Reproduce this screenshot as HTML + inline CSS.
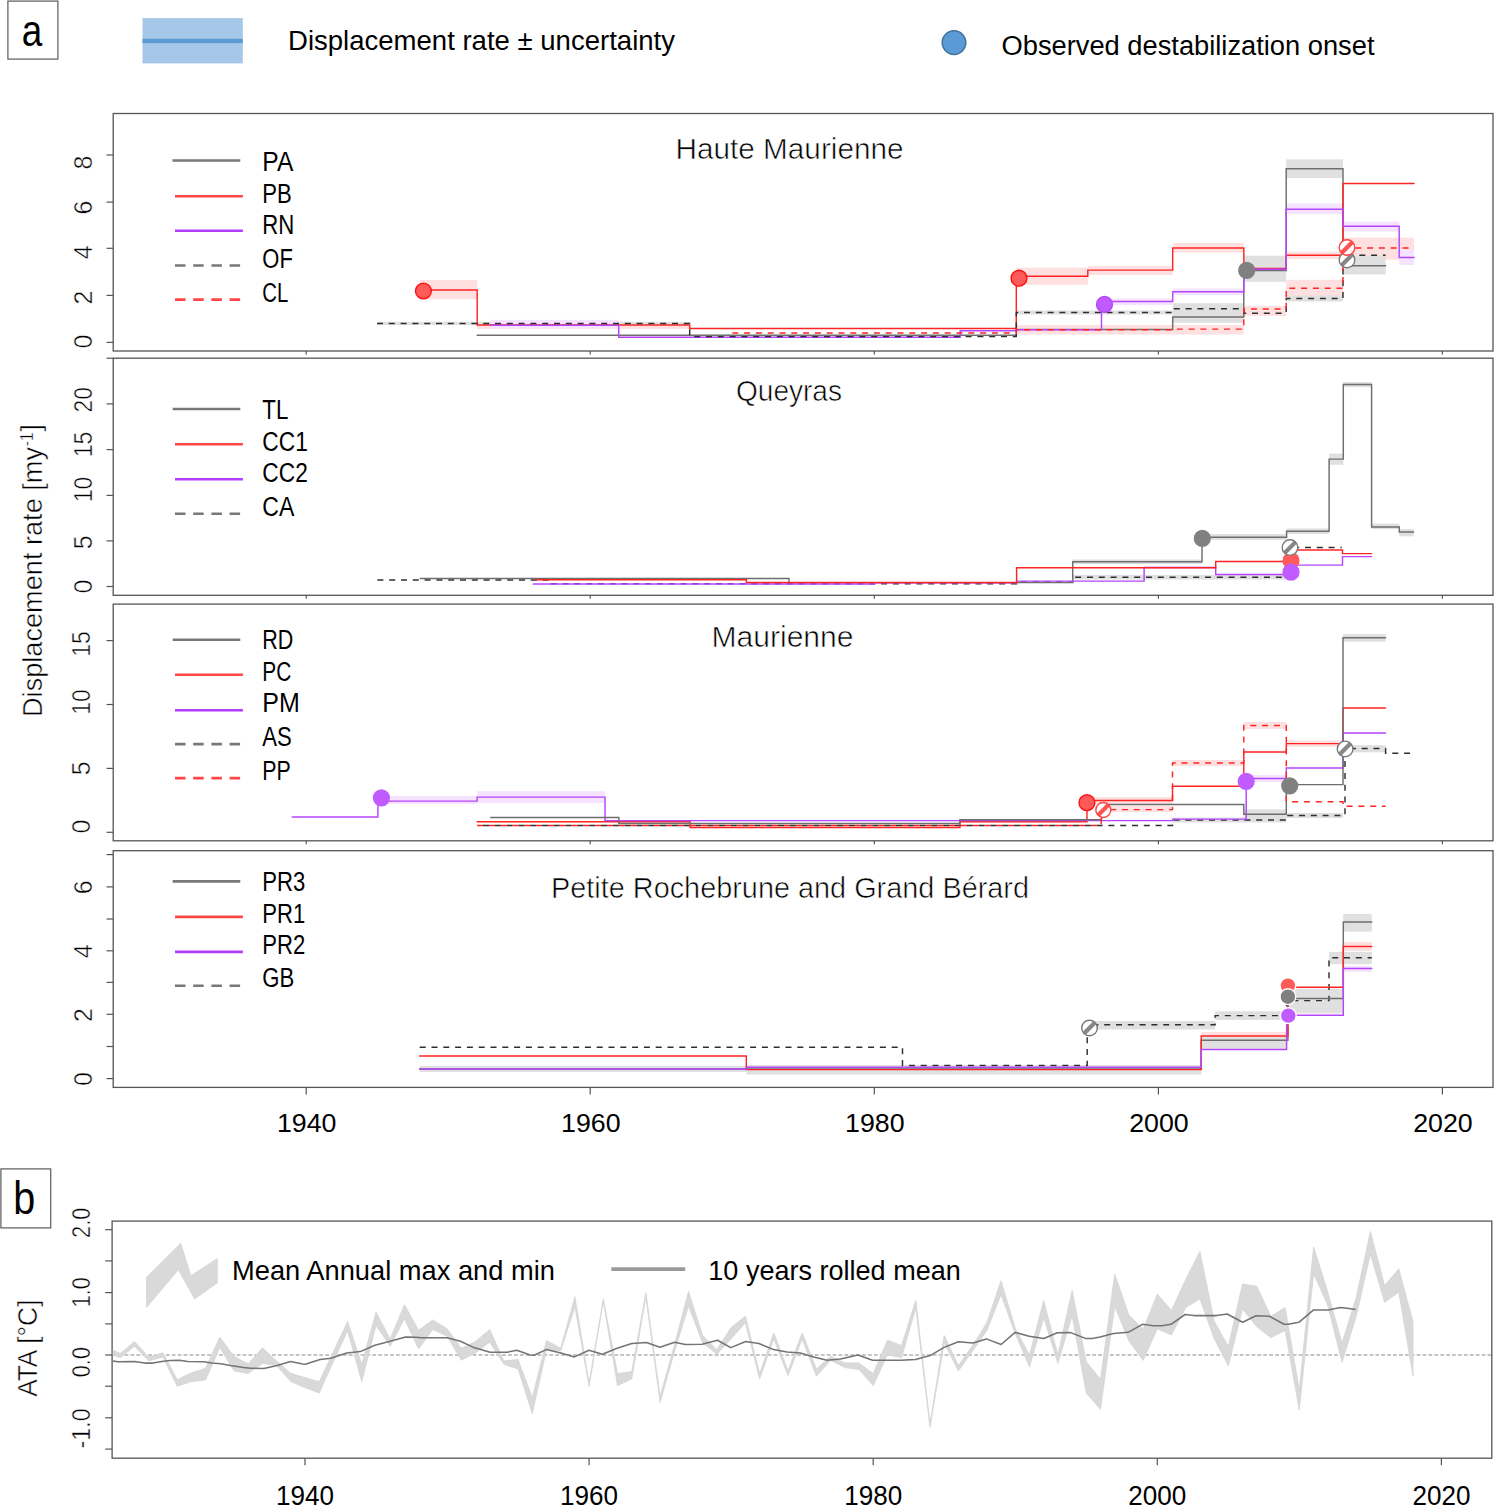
<!DOCTYPE html>
<html><head><meta charset="utf-8"><style>
html,body{margin:0;padding:0;background:#fff;}
svg{display:block;}
text{font-family:"Liberation Sans", sans-serif;}
.lt{stroke:#fff;stroke-width:0.5px;}
.lt2{stroke:#fff;stroke-width:0.6px;}
</style></head><body>
<svg width="1495" height="1507" viewBox="0 0 1495 1507">
<rect width="1495" height="1507" fill="#fff"/>
<rect x="7.9" y="1.1" width="50" height="58" fill="none" stroke="#666" stroke-width="1.3"/>
<text transform="translate(21.8,45.9) scale(0.82,1)" font-size="45">a</text>
<rect x="142.5" y="18.1" width="100.3" height="45.3" fill="#a6c8e8"/>
<rect x="142.5" y="38.8" width="100.3" height="4.3" fill="#5b9bd5"/>
<text x="288.0" y="50.1" font-size="27.3" textLength="387.0" lengthAdjust="spacingAndGlyphs" fill="#000">Displacement rate ± uncertainty</text>
<circle cx="954" cy="42.6" r="11.8" fill="#5b9bd5" stroke="#41719c" stroke-width="1.5"/>
<text x="1001.5" y="55.1" font-size="28.2" textLength="373.0" lengthAdjust="spacingAndGlyphs" fill="#000">Observed destabilization onset</text>
<rect x="113.2" y="113.5" width="1379.8" height="237.5" fill="none" stroke="#555555" stroke-width="1.3"/>
<rect x="113.2" y="358.2" width="1379.8" height="237.1" fill="none" stroke="#555555" stroke-width="1.3"/>
<rect x="113.2" y="604.1" width="1379.8" height="236.7" fill="none" stroke="#555555" stroke-width="1.3"/>
<rect x="113.2" y="850.7" width="1379.8" height="236.7" fill="none" stroke="#555555" stroke-width="1.3"/>
<line x1="106.5" y1="342.4" x2="113.2" y2="342.4" stroke="#555555" stroke-width="1.2"/>
<line x1="106.5" y1="295.4" x2="113.2" y2="295.4" stroke="#555555" stroke-width="1.2"/>
<line x1="106.5" y1="248.3" x2="113.2" y2="248.3" stroke="#555555" stroke-width="1.2"/>
<line x1="106.5" y1="202.1" x2="113.2" y2="202.1" stroke="#555555" stroke-width="1.2"/>
<line x1="106.5" y1="155.0" x2="113.2" y2="155.0" stroke="#555555" stroke-width="1.2"/>
<line x1="106.5" y1="586.5" x2="113.2" y2="586.5" stroke="#555555" stroke-width="1.2"/>
<line x1="106.5" y1="540.9" x2="113.2" y2="540.9" stroke="#555555" stroke-width="1.2"/>
<line x1="106.5" y1="495.4" x2="113.2" y2="495.4" stroke="#555555" stroke-width="1.2"/>
<line x1="106.5" y1="449.6" x2="113.2" y2="449.6" stroke="#555555" stroke-width="1.2"/>
<line x1="106.5" y1="403.9" x2="113.2" y2="403.9" stroke="#555555" stroke-width="1.2"/>
<line x1="106.5" y1="358.2" x2="113.2" y2="358.2" stroke="#555555" stroke-width="1.2"/>
<line x1="106.5" y1="832.3" x2="113.2" y2="832.3" stroke="#555555" stroke-width="1.2"/>
<line x1="106.5" y1="768.4" x2="113.2" y2="768.4" stroke="#555555" stroke-width="1.2"/>
<line x1="106.5" y1="704.5" x2="113.2" y2="704.5" stroke="#555555" stroke-width="1.2"/>
<line x1="106.5" y1="640.6" x2="113.2" y2="640.6" stroke="#555555" stroke-width="1.2"/>
<line x1="106.5" y1="1078.6" x2="113.2" y2="1078.6" stroke="#555555" stroke-width="1.2"/>
<line x1="106.5" y1="1046.5" x2="113.2" y2="1046.5" stroke="#555555" stroke-width="1.2"/>
<line x1="106.5" y1="1014.3" x2="113.2" y2="1014.3" stroke="#555555" stroke-width="1.2"/>
<line x1="106.5" y1="982.4" x2="113.2" y2="982.4" stroke="#555555" stroke-width="1.2"/>
<line x1="106.5" y1="950.8" x2="113.2" y2="950.8" stroke="#555555" stroke-width="1.2"/>
<line x1="106.5" y1="919.0" x2="113.2" y2="919.0" stroke="#555555" stroke-width="1.2"/>
<line x1="106.5" y1="886.9" x2="113.2" y2="886.9" stroke="#555555" stroke-width="1.2"/>
<line x1="106.5" y1="854.6" x2="113.2" y2="854.6" stroke="#555555" stroke-width="1.2"/>
<text transform="translate(92.0,341.5) rotate(-90)" x="0" y="0" font-size="25" text-anchor="middle" class="lt">0</text>
<text transform="translate(92.0,297.5) rotate(-90)" x="0" y="0" font-size="25" text-anchor="middle" class="lt">2</text>
<text transform="translate(92.0,252.2) rotate(-90)" x="0" y="0" font-size="25" text-anchor="middle" class="lt">4</text>
<text transform="translate(92.0,207.5) rotate(-90)" x="0" y="0" font-size="25" text-anchor="middle" class="lt">6</text>
<text transform="translate(92.0,162.6) rotate(-90)" x="0" y="0" font-size="25" text-anchor="middle" class="lt">8</text>
<text transform="translate(92.0,586.5) rotate(-90)" x="0" y="0" font-size="25" text-anchor="middle" class="lt">0</text>
<text transform="translate(92.0,542.2) rotate(-90)" x="0" y="0" font-size="25" text-anchor="middle" class="lt">5</text>
<text transform="translate(92.0,489.4) rotate(-90)" x="0" y="0" font-size="25" text-anchor="middle" textLength="25.5" lengthAdjust="spacingAndGlyphs" class="lt">10</text>
<text transform="translate(92.0,444.6) rotate(-90)" x="0" y="0" font-size="25" text-anchor="middle" textLength="25.5" lengthAdjust="spacingAndGlyphs" class="lt">15</text>
<text transform="translate(92.0,399.8) rotate(-90)" x="0" y="0" font-size="25" text-anchor="middle" textLength="25.5" lengthAdjust="spacingAndGlyphs" class="lt">20</text>
<text transform="translate(89.5,826.5) rotate(-90)" x="0" y="0" font-size="25" text-anchor="middle" class="lt">0</text>
<text transform="translate(89.5,768.4) rotate(-90)" x="0" y="0" font-size="25" text-anchor="middle" class="lt">5</text>
<text transform="translate(89.5,702.0) rotate(-90)" x="0" y="0" font-size="25" text-anchor="middle" textLength="25.5" lengthAdjust="spacingAndGlyphs" class="lt">10</text>
<text transform="translate(89.5,644.0) rotate(-90)" x="0" y="0" font-size="25" text-anchor="middle" textLength="25.5" lengthAdjust="spacingAndGlyphs" class="lt">15</text>
<text transform="translate(91.5,1079.0) rotate(-90)" x="0" y="0" font-size="25" text-anchor="middle" class="lt">0</text>
<text transform="translate(91.5,1015.0) rotate(-90)" x="0" y="0" font-size="25" text-anchor="middle" class="lt">2</text>
<text transform="translate(91.5,951.2) rotate(-90)" x="0" y="0" font-size="25" text-anchor="middle" class="lt">4</text>
<text transform="translate(91.5,887.3) rotate(-90)" x="0" y="0" font-size="25" text-anchor="middle" class="lt">6</text>
<line x1="306.2" y1="351.0" x2="306.2" y2="354.5" stroke="#555555" stroke-width="1.2"/>
<line x1="590.2" y1="351.0" x2="590.2" y2="354.5" stroke="#555555" stroke-width="1.2"/>
<line x1="874.3" y1="351.0" x2="874.3" y2="354.5" stroke="#555555" stroke-width="1.2"/>
<line x1="1158.4" y1="351.0" x2="1158.4" y2="354.5" stroke="#555555" stroke-width="1.2"/>
<line x1="1442.4" y1="351.0" x2="1442.4" y2="354.5" stroke="#555555" stroke-width="1.2"/>
<line x1="306.2" y1="595.3" x2="306.2" y2="598.8" stroke="#555555" stroke-width="1.2"/>
<line x1="590.2" y1="595.3" x2="590.2" y2="598.8" stroke="#555555" stroke-width="1.2"/>
<line x1="874.3" y1="595.3" x2="874.3" y2="598.8" stroke="#555555" stroke-width="1.2"/>
<line x1="1158.4" y1="595.3" x2="1158.4" y2="598.8" stroke="#555555" stroke-width="1.2"/>
<line x1="1442.4" y1="595.3" x2="1442.4" y2="598.8" stroke="#555555" stroke-width="1.2"/>
<line x1="306.2" y1="840.8" x2="306.2" y2="844.3" stroke="#555555" stroke-width="1.2"/>
<line x1="590.2" y1="840.8" x2="590.2" y2="844.3" stroke="#555555" stroke-width="1.2"/>
<line x1="874.3" y1="840.8" x2="874.3" y2="844.3" stroke="#555555" stroke-width="1.2"/>
<line x1="1158.4" y1="840.8" x2="1158.4" y2="844.3" stroke="#555555" stroke-width="1.2"/>
<line x1="1442.4" y1="840.8" x2="1442.4" y2="844.3" stroke="#555555" stroke-width="1.2"/>
<line x1="306.2" y1="1087.4" x2="306.2" y2="1094.5" stroke="#555555" stroke-width="1.2"/>
<text x="306.7" y="1132.4" font-size="26.2" text-anchor="middle" textLength="59.5" lengthAdjust="spacingAndGlyphs" fill="#000">1940</text>
<line x1="590.2" y1="1087.4" x2="590.2" y2="1094.5" stroke="#555555" stroke-width="1.2"/>
<text x="590.8" y="1132.4" font-size="26.2" text-anchor="middle" textLength="59.5" lengthAdjust="spacingAndGlyphs" fill="#000">1960</text>
<line x1="874.3" y1="1087.4" x2="874.3" y2="1094.5" stroke="#555555" stroke-width="1.2"/>
<text x="874.8" y="1132.4" font-size="26.2" text-anchor="middle" textLength="59.5" lengthAdjust="spacingAndGlyphs" fill="#000">1980</text>
<line x1="1158.4" y1="1087.4" x2="1158.4" y2="1094.5" stroke="#555555" stroke-width="1.2"/>
<text x="1158.9" y="1132.4" font-size="26.2" text-anchor="middle" textLength="59.5" lengthAdjust="spacingAndGlyphs" fill="#000">2000</text>
<line x1="1442.4" y1="1087.4" x2="1442.4" y2="1094.5" stroke="#555555" stroke-width="1.2"/>
<text x="1442.9" y="1132.4" font-size="26.2" text-anchor="middle" textLength="59.5" lengthAdjust="spacingAndGlyphs" fill="#000">2020</text>
<text class="lt" transform="translate(41.8,717.0) rotate(-90)" font-size="28" textLength="270" lengthAdjust="spacingAndGlyphs">Displacement rate [my</text>
<text class="lt" transform="translate(32.9,446.6) rotate(-90)" font-size="18" textLength="14.5" lengthAdjust="spacingAndGlyphs">-1</text>
<text class="lt" transform="translate(40.4,431.5) rotate(-90)" font-size="27" textLength="7.5" lengthAdjust="spacingAndGlyphs">]</text>
<text x="675.5" y="158.9" font-size="30.4" textLength="228.0" lengthAdjust="spacingAndGlyphs" fill="#000" class="lt2">Haute Maurienne</text>
<text x="736.0" y="400.5" font-size="29.8" textLength="106.0" lengthAdjust="spacingAndGlyphs" fill="#000" class="lt2">Queyras</text>
<text x="711.5" y="647.1" font-size="30.0" textLength="142.0" lengthAdjust="spacingAndGlyphs" fill="#000" class="lt2">Maurienne</text>
<text x="551.0" y="898.4" font-size="29.2" textLength="478.0" lengthAdjust="spacingAndGlyphs" fill="#000" class="lt2">Petite Rochebrune and Grand Bérard</text>
<line x1="172.4" y1="160.5" x2="240.3" y2="160.5" stroke="#787878" stroke-width="2.6"/>
<text x="262.3" y="171.1" font-size="28.2" textLength="31.0" lengthAdjust="spacingAndGlyphs" fill="#000">PA</text>
<line x1="175" y1="196.2" x2="242.9" y2="196.2" stroke="#ff4646" stroke-width="2.6"/>
<text x="262.3" y="202.6" font-size="28.2" textLength="29.5" lengthAdjust="spacingAndGlyphs" fill="#000">PB</text>
<line x1="175" y1="230.7" x2="242.9" y2="230.7" stroke="#b33dff" stroke-width="2.6"/>
<text x="262.3" y="234.4" font-size="28.2" textLength="32.0" lengthAdjust="spacingAndGlyphs" fill="#000">RN</text>
<line x1="175" y1="265.5" x2="240.3" y2="265.5" stroke="#787878" stroke-width="2.6" stroke-dasharray="10.5,7.7"/>
<text x="262.3" y="267.5" font-size="28.2" textLength="30.5" lengthAdjust="spacingAndGlyphs" fill="#000">OF</text>
<line x1="175" y1="299.6" x2="240.3" y2="299.6" stroke="#ff4646" stroke-width="2.6" stroke-dasharray="10.5,7.7"/>
<text x="262.3" y="301.6" font-size="28.2" textLength="26.0" lengthAdjust="spacingAndGlyphs" fill="#000">CL</text>
<line x1="172.7" y1="409.0" x2="240.3" y2="409.0" stroke="#787878" stroke-width="2.6"/>
<text x="262.3" y="418.8" font-size="28.2" textLength="26.0" lengthAdjust="spacingAndGlyphs" fill="#000">TL</text>
<line x1="175" y1="444.2" x2="242.9" y2="444.2" stroke="#ff4646" stroke-width="2.6"/>
<text x="262.3" y="451.1" font-size="28.2" textLength="45.5" lengthAdjust="spacingAndGlyphs" fill="#000">CC1</text>
<line x1="175" y1="479.2" x2="242.9" y2="479.2" stroke="#b33dff" stroke-width="2.6"/>
<text x="262.3" y="482.3" font-size="28.2" textLength="45.5" lengthAdjust="spacingAndGlyphs" fill="#000">CC2</text>
<line x1="175" y1="513.7" x2="240.3" y2="513.7" stroke="#787878" stroke-width="2.6" stroke-dasharray="10.5,7.7"/>
<text x="262.3" y="515.5" font-size="28.2" textLength="32.0" lengthAdjust="spacingAndGlyphs" fill="#000">CA</text>
<line x1="172.7" y1="639.8" x2="240.3" y2="639.8" stroke="#787878" stroke-width="2.6"/>
<text x="262.3" y="649.2" font-size="28.2" textLength="31.0" lengthAdjust="spacingAndGlyphs" fill="#000">RD</text>
<line x1="175" y1="674.8" x2="242.9" y2="674.8" stroke="#ff4646" stroke-width="2.6"/>
<text x="262.3" y="681.3" font-size="28.2" textLength="29.0" lengthAdjust="spacingAndGlyphs" fill="#000">PC</text>
<line x1="175" y1="710.3" x2="242.9" y2="710.3" stroke="#b33dff" stroke-width="2.6"/>
<text x="262.3" y="712.3" font-size="28.2" textLength="37.5" lengthAdjust="spacingAndGlyphs" fill="#000">PM</text>
<line x1="175" y1="744.1" x2="240.3" y2="744.1" stroke="#787878" stroke-width="2.6" stroke-dasharray="10.5,7.7"/>
<text x="262.3" y="745.8" font-size="28.2" textLength="29.5" lengthAdjust="spacingAndGlyphs" fill="#000">AS</text>
<line x1="175" y1="778.1" x2="240.3" y2="778.1" stroke="#ff4646" stroke-width="2.6" stroke-dasharray="10.5,7.7"/>
<text x="262.3" y="779.9" font-size="28.2" textLength="28.5" lengthAdjust="spacingAndGlyphs" fill="#000">PP</text>
<line x1="172.7" y1="881.4" x2="240.3" y2="881.4" stroke="#787878" stroke-width="2.6"/>
<text x="262.3" y="891.4" font-size="28.2" textLength="43.0" lengthAdjust="spacingAndGlyphs" fill="#000">PR3</text>
<line x1="175" y1="916.9" x2="242.9" y2="916.9" stroke="#ff4646" stroke-width="2.6"/>
<text x="262.3" y="922.9" font-size="28.2" textLength="43.0" lengthAdjust="spacingAndGlyphs" fill="#000">PR1</text>
<line x1="175" y1="951.9" x2="242.9" y2="951.9" stroke="#b33dff" stroke-width="2.6"/>
<text x="262.3" y="954.3" font-size="28.2" textLength="43.0" lengthAdjust="spacingAndGlyphs" fill="#000">PR2</text>
<line x1="175" y1="985.8" x2="240.3" y2="985.8" stroke="#787878" stroke-width="2.6" stroke-dasharray="10.5,7.7"/>
<text x="262.3" y="987.1" font-size="28.2" textLength="32.0" lengthAdjust="spacingAndGlyphs" fill="#000">GB</text>
<rect x="0.9" y="1168.9" width="49.8" height="59" fill="none" stroke="#666" stroke-width="1.3"/>
<text transform="translate(13.2,1214.2) scale(0.86,1)" font-size="46">b</text>
<rect x="112.1" y="1221.1" width="1379.7" height="237.1" fill="none" stroke="#555555" stroke-width="1.3"/>
<line x1="105.2" y1="1229.7" x2="112.1" y2="1229.7" stroke="#555555" stroke-width="1.2"/>
<line x1="105.2" y1="1260.9" x2="112.1" y2="1260.9" stroke="#555555" stroke-width="1.2"/>
<line x1="105.2" y1="1292.6" x2="112.1" y2="1292.6" stroke="#555555" stroke-width="1.2"/>
<line x1="105.2" y1="1323.9" x2="112.1" y2="1323.9" stroke="#555555" stroke-width="1.2"/>
<line x1="105.2" y1="1355.0" x2="112.1" y2="1355.0" stroke="#555555" stroke-width="1.2"/>
<line x1="105.2" y1="1386.2" x2="112.1" y2="1386.2" stroke="#555555" stroke-width="1.2"/>
<line x1="105.2" y1="1417.8" x2="112.1" y2="1417.8" stroke="#555555" stroke-width="1.2"/>
<line x1="105.2" y1="1449.1" x2="112.1" y2="1449.1" stroke="#555555" stroke-width="1.2"/>
<text transform="translate(89.8,1222.8) rotate(-90)" x="0" y="0" font-size="25" text-anchor="middle" textLength="30.5" lengthAdjust="spacingAndGlyphs" class="lt">2.0</text>
<text transform="translate(89.8,1292.2) rotate(-90)" x="0" y="0" font-size="25" text-anchor="middle" textLength="30.5" lengthAdjust="spacingAndGlyphs" class="lt">1.0</text>
<text transform="translate(89.8,1362.1) rotate(-90)" x="0" y="0" font-size="25" text-anchor="middle" textLength="30.5" lengthAdjust="spacingAndGlyphs" class="lt">0.0</text>
<text transform="translate(89.8,1428.4) rotate(-90)" x="0" y="0" font-size="25" text-anchor="middle" textLength="40.0" lengthAdjust="spacingAndGlyphs" class="lt">-1.0</text>
<text transform="translate(37.3,1348.3) rotate(-90)" x="0" y="0" font-size="26.8" text-anchor="middle" textLength="97.0" lengthAdjust="spacingAndGlyphs" class="lt">ATA [°C]</text>
<line x1="305.0" y1="1458.2" x2="305.0" y2="1465.2" stroke="#555555" stroke-width="1.2"/>
<text x="305.0" y="1505.4" font-size="27.2" text-anchor="middle" textLength="58.0" lengthAdjust="spacingAndGlyphs" fill="#000">1940</text>
<line x1="589.1" y1="1458.2" x2="589.1" y2="1465.2" stroke="#555555" stroke-width="1.2"/>
<text x="589.1" y="1505.4" font-size="27.2" text-anchor="middle" textLength="58.0" lengthAdjust="spacingAndGlyphs" fill="#000">1960</text>
<line x1="873.2" y1="1458.2" x2="873.2" y2="1465.2" stroke="#555555" stroke-width="1.2"/>
<text x="873.2" y="1505.4" font-size="27.2" text-anchor="middle" textLength="58.0" lengthAdjust="spacingAndGlyphs" fill="#000">1980</text>
<line x1="1157.3" y1="1458.2" x2="1157.3" y2="1465.2" stroke="#555555" stroke-width="1.2"/>
<text x="1157.3" y="1505.4" font-size="27.2" text-anchor="middle" textLength="58.0" lengthAdjust="spacingAndGlyphs" fill="#000">2000</text>
<line x1="1441.4" y1="1458.2" x2="1441.4" y2="1465.2" stroke="#555555" stroke-width="1.2"/>
<text x="1441.4" y="1505.4" font-size="27.2" text-anchor="middle" textLength="58.0" lengthAdjust="spacingAndGlyphs" fill="#000">2020</text>
<polygon points="146.1,1277.3 180.9,1242.4 191.2,1275.1 217.8,1257.8 217.8,1283.0 194.5,1299.5 178.3,1270.6 146.1,1308.4" fill="#d9d9d9"/>
<text x="232.0" y="1279.7" font-size="27.6" textLength="323.0" lengthAdjust="spacingAndGlyphs" fill="#000">Mean Annual max and min</text>
<line x1="611.4" y1="1269.1" x2="685.2" y2="1269.1" stroke="#999" stroke-width="3.8"/>
<text x="708.3" y="1279.7" font-size="27.6" textLength="252.5" lengthAdjust="spacingAndGlyphs" fill="#000">10 years rolled mean</text>
<defs><clipPath id="cpb"><rect x="112.8" y="1221.8" width="1378.4" height="235.7"/></clipPath></defs>
<g clip-path="url(#cpb)">
<line x1="112.8" y1="1355" x2="1491" y2="1355" stroke="#c4c4c4" stroke-width="1.8" stroke-dasharray="3.8,2.1"/>
<polygon points="106.1,1346.8 120.3,1353.5 134.5,1341.5 148.7,1356.9 162.9,1352.8 177.2,1379.6 191.4,1372.9 205.6,1368.2 219.8,1337.2 234.0,1356.2 248.2,1363.9 262.4,1347.8 276.6,1360.9 290.8,1373.3 305.0,1377.6 319.2,1381.7 333.4,1351.6 347.6,1321.5 361.8,1364.3 376.0,1312.1 390.2,1338.9 404.4,1304.7 418.6,1330.2 432.8,1319.9 447.1,1328.8 461.3,1348.2 475.5,1341.5 489.7,1329.5 503.9,1360.9 518.1,1359.6 532.3,1397.7 546.5,1340.5 560.7,1348.2 574.9,1296.7 589.1,1383.0 603.3,1298.7 617.5,1373.6 631.7,1371.6 645.9,1292.7 660.1,1396.4 674.3,1345.5 688.5,1291.4 702.7,1335.5 716.9,1349.6 731.1,1327.5 745.4,1316.1 759.6,1373.6 773.8,1332.8 788.0,1371.0 802.2,1332.8 816.4,1369.0 830.6,1356.3 844.8,1362.9 859.0,1362.9 873.2,1373.6 887.4,1340.2 901.6,1345.5 915.8,1300.1 930.0,1423.8 944.2,1335.5 958.4,1365.6 972.6,1345.5 986.8,1322.8 1001.0,1280.7 1015.2,1328.2 1029.5,1354.9 1043.7,1300.7 1057.9,1354.9 1072.1,1290.2 1086.3,1361.8 1100.5,1379.2 1114.7,1274.1 1128.9,1315.0 1143.1,1329.0 1157.3,1294.2 1171.5,1310.3 1185.7,1279.5 1199.9,1251.4 1214.1,1321.0 1228.3,1346.4 1242.5,1284.0 1256.7,1286.2 1270.9,1316.3 1285.1,1307.6 1299.3,1389.9 1313.6,1246.8 1327.8,1292.2 1342.0,1343.1 1356.2,1297.6 1370.4,1231.4 1384.6,1285.6 1398.8,1268.8 1413.0,1321.7 1413.0,1375.9 1398.8,1292.2 1384.6,1302.3 1370.4,1254.1 1356.2,1316.3 1342.0,1362.5 1327.8,1305.6 1313.6,1273.5 1299.3,1410.0 1285.1,1330.4 1270.9,1337.7 1256.7,1326.7 1242.5,1309.0 1228.3,1365.8 1214.1,1338.4 1199.9,1298.9 1185.7,1307.6 1171.5,1335.0 1157.3,1329.0 1143.1,1360.4 1128.9,1341.0 1114.7,1306.3 1100.5,1409.3 1086.3,1393.2 1072.1,1315.6 1057.9,1363.6 1043.7,1317.5 1029.5,1367.0 1015.2,1333.5 1001.0,1294.7 986.8,1330.8 972.6,1350.9 958.4,1371.0 944.2,1342.9 930.0,1427.2 915.8,1308.1 901.6,1357.6 887.4,1354.9 873.2,1385.7 859.0,1369.6 844.8,1367.6 830.6,1360.3 816.4,1376.3 802.2,1338.9 788.0,1375.7 773.8,1338.9 759.6,1379.0 745.4,1322.8 731.1,1338.9 716.9,1354.2 702.7,1342.9 688.5,1306.0 674.3,1352.2 660.1,1402.4 645.9,1296.7 631.7,1379.0 617.5,1385.7 603.3,1301.4 589.1,1386.4 574.9,1306.8 560.7,1350.9 546.5,1349.6 532.3,1413.8 518.1,1369.0 503.9,1364.3 489.7,1342.2 475.5,1352.9 461.3,1360.3 447.1,1336.2 432.8,1329.5 418.6,1348.9 404.4,1318.8 390.2,1346.2 376.0,1325.5 361.8,1381.7 347.6,1330.8 333.4,1361.6 319.2,1393.0 305.0,1387.6 290.8,1381.6 276.6,1365.6 262.4,1363.5 248.2,1373.6 234.0,1370.9 219.8,1347.5 205.6,1380.0 191.4,1381.6 177.2,1386.3 162.9,1356.9 148.7,1360.9 134.5,1346.2 120.3,1357.8 106.1,1352.2" fill="#d9d9d9" stroke="#d4d4d4" stroke-width="0.8" stroke-linejoin="miter"/>
<polyline points="112.7,1360.9 118.0,1361.8 134.5,1361.5 144.8,1363.1 152.8,1363.1 163.5,1361.3 170.2,1360.5 179.6,1360.2 187.6,1361.5 203.6,1361.8 211.7,1362.9 221.0,1363.7 230.4,1365.6 243.8,1367.6 250.5,1368.2 263.9,1368.5 277.2,1365.6 290.6,1361.5 302.6,1364.0 305.4,1364.3 320.1,1359.6 330.8,1358.3 346.8,1352.9 360.2,1351.6 374.9,1345.3 391.0,1340.9 405.7,1336.9 416.4,1337.3 420.4,1337.8 447.2,1337.8 460.5,1341.3 473.9,1347.6 490.0,1352.2 507.4,1352.2 516.8,1350.2 530.1,1354.9 534.1,1355.2 546.2,1349.6 560.9,1352.9 574.3,1356.9 589.0,1350.2 602.4,1354.2 617.1,1348.2 631.8,1343.5 646.5,1342.6 659.9,1347.3 674.6,1342.2 685.4,1344.5 702.1,1344.2 717.5,1340.2 730.8,1347.6 745.6,1341.5 758.9,1343.5 773.6,1349.6 787.0,1352.0 800.4,1352.9 813.8,1356.9 827.2,1360.3 840.5,1358.9 857.9,1354.9 872.6,1360.3 900.8,1360.3 915.5,1359.6 930.2,1355.6 943.6,1347.6 958.3,1341.8 973.0,1342.9 986.4,1338.9 1001.1,1344.5 1015.1,1332.4 1029.2,1336.2 1043.9,1338.5 1057.3,1332.8 1070.7,1332.6 1085.4,1338.4 1092.1,1338.4 1100.1,1337.0 1113.5,1333.4 1128.2,1332.3 1142.3,1324.3 1153.6,1325.7 1161.7,1325.7 1171.0,1324.3 1185.1,1314.5 1193.8,1315.6 1216.5,1315.6 1227.2,1314.0 1242.6,1322.3 1256.1,1315.7 1269.4,1316.3 1284.1,1324.3 1288.2,1324.3 1298.9,1322.3 1313.6,1309.9 1328.3,1309.9 1340.3,1307.6 1347.0,1308.3 1355.7,1309.4" fill="none" stroke="#747474" stroke-width="1.55" stroke-linejoin="round"/>
</g>
<rect x="419.6" y="280.0" width="57.6" height="19.3" fill="#ffe0e0"/>
<rect x="477.2" y="322.0" width="212.5" height="7.0" fill="#ffe0e0"/>
<rect x="377.0" y="321.8" width="312.7" height="3.2" fill="#e0e0e0"/>
<rect x="490.6" y="319.9" width="128.1" height="8.6" fill="#f5e3ff"/>
<rect x="1016.3" y="267.6" width="71.5" height="17.2" fill="#ffe0e0"/>
<rect x="1087.8" y="266.0" width="84.9" height="9.0" fill="#ffe0e0"/>
<rect x="1172.7" y="243.0" width="71.1" height="9.5" fill="#ffe0e0"/>
<rect x="1286.2" y="251.7" width="56.8" height="7.3" fill="#ffe0e0"/>
<rect x="1016.3" y="310.5" width="156.4" height="4.0" fill="#e0e0e0"/>
<rect x="1172.7" y="303.2" width="71.1" height="12.1" fill="#e0e0e0"/>
<rect x="1172.7" y="314.4" width="71.1" height="8.4" fill="#e0e0e0"/>
<rect x="1016.3" y="325.0" width="227.5" height="9.5" fill="#ffe0e0"/>
<rect x="1104.0" y="298.5" width="68.7" height="6.5" fill="#f5e3ff"/>
<rect x="1172.7" y="288.5" width="71.1" height="6.5" fill="#f5e3ff"/>
<rect x="1243.8" y="255.7" width="42.4" height="26.1" fill="#e0e0e0"/>
<rect x="1243.8" y="305.9" width="42.4" height="10.1" fill="#ffe0e0"/>
<rect x="1286.2" y="159.4" width="56.8" height="18.7" fill="#e0e0e0"/>
<rect x="1286.2" y="279.8" width="56.8" height="18.7" fill="#ffe0e0"/>
<rect x="1286.2" y="295.5" width="56.8" height="6.0" fill="#e0e0e0"/>
<rect x="1286.2" y="203.5" width="56.8" height="10.7" fill="#f5e3ff"/>
<rect x="1343.0" y="237.6" width="71.0" height="22.1" fill="#ffe0e0"/>
<rect x="1343.0" y="255.7" width="42.6" height="18.7" fill="#e0e0e0"/>
<rect x="1343.0" y="221.6" width="56.2" height="10.0" fill="#f5e3ff"/>
<rect x="1399.2" y="249.7" width="14.8" height="15.3" fill="#f5e3ff"/>
<path d="M477.2 335.3 H1016.3 V329.5 H1172.7 V316.9 H1243.8 V270.4 H1286.2 V168.7 H1343 V265.7 H1385.6" fill="none" stroke="#6e6e6e" stroke-width="1.45" stroke-linecap="round"/>
<path d="M423.4 290.0 H477.2 V325.0 H689.7 V328.5 H1016.3 V276.3 H1087.8 V270.1 H1172.7 V248.0 H1243.8 V268.4 H1286.2 V255.3 H1343 V183.4 H1414" fill="none" stroke="#ff2424" stroke-width="1.45" stroke-linecap="round"/>
<path d="M490.6 325.3 H618.7 V337.2 H960.2 V330.7 H1016.3 V329.8 H1101.5 V301.5 H1172.7 V291.8 H1243.8 V269.2 H1286.2 V209.3 H1343 V226.3 H1399.2 V257.4 H1414" fill="none" stroke="#b545ff" stroke-width="1.45" stroke-linecap="round"/>
<path d="M377.0 323.4 H689.7 V336.6 H1016.3 V312.4 H1172.7 V308.8 H1243.8 V313.2 H1286.2 V298.5 H1343 V255.3 H1385.6" fill="none" stroke="#2e2e2e" stroke-width="1.45" stroke-linecap="butt" stroke-dasharray="6,5.8"/>
<path d="M732.3 333.0 H1016.3 V329.8 H1172.7 V329.1 H1243.8 V308.9 H1286.2 V288.2 H1343 V248.0 H1414" fill="none" stroke="#ff2424" stroke-width="1.45" stroke-linecap="butt" stroke-dasharray="6,5.8"/>
<circle cx="423.4" cy="291.0" r="7.9" fill="#ff5a5a" stroke="#ff1010" stroke-width="1.4"/>
<circle cx="1019.0" cy="278.2" r="7.9" fill="#ff5a5a" stroke="#ff1010" stroke-width="1.4"/>
<circle cx="1104.5" cy="304.4" r="7.9" fill="#c05cff" stroke="#b545ff" stroke-width="1.4"/>
<circle cx="1246.7" cy="270.4" r="7.9" fill="#808080" stroke="#808080" stroke-width="1.4"/>
<clipPath id="hc1"><circle cx="1347.0" cy="259.9" r="7.8"/></clipPath>
<circle cx="1347.0" cy="259.9" r="7.8" fill="#fff"/>
<g clip-path="url(#hc1)" transform="rotate(-45 1347.0 259.9)">
<rect x="1335.0" y="257.8" width="24" height="4.2" fill="#7a7a7a" opacity="0.9"/>
</g>
<circle cx="1347.0" cy="259.9" r="7.8" fill="none" stroke="#7a7a7a" stroke-width="1.4"/>
<clipPath id="hc2"><circle cx="1347.0" cy="247.5" r="7.8"/></clipPath>
<circle cx="1347.0" cy="247.5" r="7.8" fill="#fff"/>
<g clip-path="url(#hc2)" transform="rotate(-45 1347.0 247.5)">
<rect x="1335.0" y="245.4" width="24" height="4.2" fill="#ff4040" opacity="0.9"/>
</g>
<circle cx="1347.0" cy="247.5" r="7.8" fill="none" stroke="#ff4040" stroke-width="1.4"/>
<rect x="1072.7" y="559.5" width="129.3" height="4.5" fill="#e0e0e0"/>
<rect x="1072.7" y="575.0" width="213.9" height="4.5" fill="#e0e0e0"/>
<rect x="1202.0" y="534.0" width="84.6" height="6.0" fill="#e0e0e0"/>
<rect x="1286.6" y="528.5" width="42.5" height="5.5" fill="#e0e0e0"/>
<rect x="1329.1" y="453.6" width="14.2" height="11.2" fill="#e0e0e0"/>
<rect x="1343.3" y="382.0" width="28.3" height="5.2" fill="#e0e0e0"/>
<rect x="1371.6" y="523.7" width="27.7" height="5.3" fill="#e0e0e0"/>
<rect x="1399.3" y="529.0" width="14.4" height="7.4" fill="#e0e0e0"/>
<path d="M377.4 580.0 H548 V583.7 H1016.6 V581.9 H1072.7 V577.2 H1286.6 V547.4 H1341.8" fill="none" stroke="#2e2e2e" stroke-width="1.45" stroke-linecap="butt" stroke-dasharray="6,5.8"/>
<path d="M420.2 578.5 H789 V582.6 H1072.7 V561.8 H1202 V537.2 H1286.6 V531.2 H1329.1 V459.1 H1343.3 V384.5 H1371.6 V527.0 H1399.3 V531.9 H1413.7" fill="none" stroke="#6e6e6e" stroke-width="1.45" stroke-linecap="round"/>
<path d="M533.2 583.9 H874.4 V582.8 H1016.6 V581.1 H1144.1 V567.4 H1215.7 V574.5 H1291 V565.1 H1342.5 V556.6 H1371.6" fill="none" stroke="#b545ff" stroke-width="1.45" stroke-linecap="round"/>
<path d="M535.5 579.7 H746.4 V582.4 H1016.6 V567.8 H1215.7 V561.5 H1291 V549.9 H1342.5 V553.6 H1371.6" fill="none" stroke="#ff2424" stroke-width="1.45" stroke-linecap="round"/>
<circle cx="1202.3" cy="538.4" r="7.9" fill="#808080" stroke="#808080" stroke-width="1.4"/>
<circle cx="1291.0" cy="560.7" r="7.9" fill="#ff5a5a" stroke="#ff5a5a" stroke-width="1.4"/>
<circle cx="1291.0" cy="572.2" r="7.9" fill="#c05cff" stroke="#c05cff" stroke-width="1.4"/>
<clipPath id="hc3"><circle cx="1290.0" cy="547.6" r="7.8"/></clipPath>
<circle cx="1290.0" cy="547.6" r="7.8" fill="#fff"/>
<g clip-path="url(#hc3)" transform="rotate(-45 1290.0 547.6)">
<rect x="1278.0" y="545.5" width="24" height="4.2" fill="#7a7a7a" opacity="0.9"/>
</g>
<circle cx="1290.0" cy="547.6" r="7.8" fill="none" stroke="#7a7a7a" stroke-width="1.4"/>
<rect x="381.0" y="795.9" width="96.1" height="8.2" fill="#f5e3ff"/>
<rect x="477.1" y="791.2" width="127.9" height="11.8" fill="#f5e3ff"/>
<rect x="1087.0" y="797.0" width="85.5" height="7.0" fill="#ffe0e0"/>
<rect x="1101.0" y="806.0" width="71.5" height="6.0" fill="#ffe0e0"/>
<rect x="1172.5" y="760.0" width="71.3" height="6.0" fill="#ffe0e0"/>
<rect x="1243.8" y="722.0" width="42.5" height="7.0" fill="#ffe0e0"/>
<rect x="1243.8" y="809.4" width="42.5" height="8.9" fill="#e0e0e0"/>
<rect x="1172.5" y="817.5" width="113.8" height="5.0" fill="#e0e0e0"/>
<rect x="1286.3" y="813.0" width="56.7" height="5.0" fill="#e0e0e0"/>
<rect x="1246.0" y="775.0" width="40.3" height="7.0" fill="#f5e3ff"/>
<rect x="1286.3" y="740.4" width="56.7" height="6.4" fill="#ffe0e0"/>
<rect x="1343.0" y="634.1" width="42.6" height="7.6" fill="#e0e0e0"/>
<rect x="1345.0" y="745.2" width="40.6" height="7.2" fill="#e0e0e0"/>
<path d="M477.1 825.5 H1172.5 V819.9 H1286.3 V815.5 H1345 V748.4 H1385.6 V753.2 H1414" fill="none" stroke="#2e2e2e" stroke-width="1.45" stroke-linecap="butt" stroke-dasharray="6,5.8" stroke-dashoffset="5.9"/>
<path d="M477.1 821.7 H690.1 V827.5 H959.9 V821.8 H1087 V800.4 H1172.5 V786.2 H1243.8 V752.0 H1286.3 V743.6 H1343 V708.0 H1385.6" fill="none" stroke="#ff2424" stroke-width="1.45" stroke-linecap="round"/>
<path d="M292.2 817.0 H377.9 V801.1 H477.1 V797.1 H605 V820.6 H1172.5 V819.1 H1246.2 V778.5 H1286.3 V768.0 H1343 V732.9 H1385.6" fill="none" stroke="#b545ff" stroke-width="1.45" stroke-linecap="round"/>
<path d="M490.7 817.5 H618.8 V823.4 H959.9 V819.7 H1101.5 V804.4 H1243.8 V814.3 H1286.3 V784.6 H1343 V637.7 H1385.6" fill="none" stroke="#6e6e6e" stroke-width="1.45" stroke-linecap="round"/>
<path d="M477.1 825.5 H1101.2 V809.6 H1172.5 V762.9 H1243.8 V725.5 H1286.3 V801.7 H1343 V806.2 H1385.6" fill="none" stroke="#ff2424" stroke-width="1.45" stroke-linecap="butt" stroke-dasharray="6,5.8"/>
<circle cx="381.4" cy="797.8" r="7.9" fill="#c05cff" stroke="#c05cff" stroke-width="1.4"/>
<circle cx="1086.9" cy="802.7" r="7.9" fill="#ff5a5a" stroke="#ff1010" stroke-width="1.4"/>
<circle cx="1246.2" cy="781.3" r="7.9" fill="#c05cff" stroke="#c05cff" stroke-width="1.4"/>
<circle cx="1289.7" cy="785.8" r="7.9" fill="#808080" stroke="#808080" stroke-width="1.4"/>
<clipPath id="hc4"><circle cx="1103.3" cy="810.0" r="7.5"/></clipPath>
<circle cx="1103.3" cy="810.0" r="7.5" fill="#fff"/>
<g clip-path="url(#hc4)" transform="rotate(-45 1103.3 810.0)">
<rect x="1091.3" y="807.9" width="24" height="4.2" fill="#ff4040" opacity="0.9"/>
</g>
<circle cx="1103.3" cy="810.0" r="7.5" fill="none" stroke="#ff4040" stroke-width="1.4"/>
<clipPath id="hc5"><circle cx="1345.1" cy="748.9" r="7.8"/></clipPath>
<circle cx="1345.1" cy="748.9" r="7.8" fill="#fff"/>
<g clip-path="url(#hc5)" transform="rotate(-45 1345.1 748.9)">
<rect x="1333.1" y="746.8" width="24" height="4.2" fill="#7a7a7a" opacity="0.9"/>
</g>
<circle cx="1345.1" cy="748.9" r="7.8" fill="none" stroke="#7a7a7a" stroke-width="1.4"/>
<rect x="419.7" y="1066.0" width="326.6" height="6.0" fill="#e0e0e0"/>
<rect x="746.3" y="1065.0" width="454.9" height="9.6" fill="#e0e0e0"/>
<rect x="1089.0" y="1021.0" width="126.1" height="8.5" fill="#e0e0e0"/>
<rect x="1215.1" y="1011.3" width="71.5" height="8.6" fill="#e0e0e0"/>
<rect x="1201.2" y="1032.0" width="85.4" height="7.0" fill="#ffe0e0"/>
<rect x="1201.2" y="1037.0" width="85.4" height="11.8" fill="#e0e0e0"/>
<rect x="1287.9" y="988.8" width="55.4" height="24.6" fill="#e0e0e0"/>
<rect x="1286.6" y="995.0" width="42.4" height="10.0" fill="#e0e0e0"/>
<rect x="1329.0" y="952.0" width="42.8" height="12.2" fill="#e0e0e0"/>
<rect x="1343.3" y="942.0" width="28.5" height="9.0" fill="#ffe0e0"/>
<rect x="1343.3" y="913.9" width="28.5" height="17.8" fill="#e0e0e0"/>
<rect x="1343.3" y="966.0" width="28.5" height="6.0" fill="#f5e3ff"/>
<path d="M419.7 1047.3 H902.5 V1065.5 H1087.2 V1024.8 H1215.1 V1015.6 H1286.6 V1000.6 H1329 V957.8 H1371.8" fill="none" stroke="#2e2e2e" stroke-width="1.45" stroke-linecap="butt" stroke-dasharray="6,5.8"/>
<path d="M419.7 1069.0 H1201.2 V1040.2 H1287.9 V998.5 H1343.3 V922.0 H1371.8" fill="none" stroke="#6e6e6e" stroke-width="1.45" stroke-linecap="round"/>
<path d="M419.7 1056.0 H746.3 V1069.6 H1201.2 V1035.9 H1287.9 V987.3 H1343.3 V946.4 H1371.8" fill="none" stroke="#ff2424" stroke-width="1.45" stroke-linecap="round"/>
<path d="M419.7 1069.0 H746.3 V1067.3 H1201.2 V1049.4 H1286.6 V1015.2 H1343.3 V968.5 H1371.8" fill="none" stroke="#b545ff" stroke-width="1.45" stroke-linecap="round"/>
<circle cx="1287.9" cy="985.6" r="7.9" fill="#ff5a5a" stroke="#ffffff" stroke-width="1.4"/>
<circle cx="1287.9" cy="996.7" r="7.9" fill="#808080" stroke="#ffffff" stroke-width="1.4"/>
<circle cx="1288.3" cy="1015.6" r="7.9" fill="#c05cff" stroke="#ffffff" stroke-width="1.4"/>
<clipPath id="hc6"><circle cx="1089.5" cy="1028.0" r="7.8"/></clipPath>
<circle cx="1089.5" cy="1028.0" r="7.8" fill="#fff"/>
<g clip-path="url(#hc6)" transform="rotate(-45 1089.5 1028.0)">
<rect x="1077.5" y="1025.9" width="24" height="4.2" fill="#7a7a7a" opacity="0.9"/>
</g>
<circle cx="1089.5" cy="1028.0" r="7.8" fill="none" stroke="#7a7a7a" stroke-width="1.4"/>
</svg></body></html>
